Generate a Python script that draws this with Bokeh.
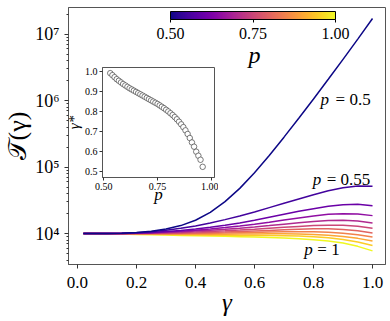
import math
from bokeh.plotting import figure
from bokeh.models import (ColorBar, LinearColorMapper, FixedTicker, NumeralTickFormatter,
                          Label, Range1d)
from bokeh.palettes import Plasma256
from bokeh.embed import file_html
from bokeh.resources import INLINE

SERIF = "Liberation Serif"

# ---------------- data ----------------
gamma = [0.02, 0.05, 0.10, 0.15, 0.20, 0.25, 0.30, 0.35, 0.40, 0.45, 0.50,
         0.55, 0.60, 0.65, 0.70, 0.75, 0.80, 0.85, 0.90, 0.95, 1.00]

# log10 of T(gamma) for each p
log10T_p050 = [4.0, 4.0, 4.002, 4.006, 4.015, 4.035, 4.07, 4.12, 4.20, 4.32, 4.48,
               4.68, 4.915, 5.175, 5.45, 5.735, 6.025, 6.32, 6.62, 6.925, 7.235]
log10T_p055 = [4.0, 4.0, 4.002, 4.006, 4.014, 4.028, 4.05, 4.08, 4.115, 4.16, 4.21,
               4.265, 4.325, 4.39, 4.455, 4.52, 4.585, 4.645, 4.69, 4.715, 4.71]
log10T_p060 = [4.0, 4.0, 4.001, 4.003, 4.008, 4.017, 4.03, 4.046, 4.068, 4.095, 4.125,
               4.16, 4.20, 4.245, 4.29, 4.335, 4.375, 4.41, 4.435, 4.44, 4.42]
log10T_p065 = [4.0, 4.0, 4.0, 4.002, 4.006, 4.012, 4.022, 4.035, 4.051, 4.07, 4.09,
               4.113, 4.14, 4.17, 4.205, 4.235, 4.265, 4.29, 4.30, 4.295, 4.27]
log10T_p070 = [4.0, 4.0, 4.0, 4.001, 4.004, 4.009, 4.016, 4.025, 4.037, 4.051, 4.066,
               4.082, 4.10, 4.12, 4.142, 4.163, 4.183, 4.197, 4.20, 4.19, 4.16]
log10T_p075 = [4.0, 4.0, 4.0, 4.0, 4.002, 4.004, 4.008, 4.014, 4.022, 4.031, 4.041,
               4.053, 4.066, 4.08, 4.094, 4.108, 4.12, 4.127, 4.124, 4.11, 4.08]
log10T_p080 = [4.0, 4.0, 4.0, 4.0, 4.0, 4.0, 4.002, 4.005, 4.009, 4.015, 4.022,
               4.03, 4.039, 4.048, 4.057, 4.065, 4.071, 4.071, 4.062, 4.042, 4.01]
log10T_p085 = [4.0, 4.0, 4.0, 3.999, 3.998, 3.997, 3.997, 3.998, 4.0, 4.003, 4.007,
               4.012, 4.017, 4.022, 4.026, 4.028, 4.027, 4.02, 4.006, 3.983, 3.95]
log10T_p090 = [4.0, 4.0, 3.999, 3.998, 3.996, 3.994, 3.992, 3.99, 3.989, 3.989, 3.99,
               3.992, 3.994, 3.996, 3.997, 3.995, 3.988, 3.976, 3.957, 3.928, 3.89]
log10T_p095 = [4.0, 4.0, 3.998, 3.996, 3.993, 3.99, 3.986, 3.982, 3.979, 3.976, 3.974,
               3.973, 3.972, 3.971, 3.969, 3.964, 3.954, 3.938, 3.912, 3.872, 3.82]
log10T_p100 = [4.0, 3.999, 3.997, 3.993, 3.988, 3.983, 3.978, 3.973, 3.968, 3.963, 3.958,
               3.953, 3.948, 3.942, 3.934, 3.923, 3.908, 3.888, 3.858, 3.808, 3.74]

p_values = [0.5, 0.55, 0.6, 0.65, 0.7, 0.75, 0.8, 0.85, 0.9, 0.95, 1.0]
series = [log10T_p050, log10T_p055, log10T_p060, log10T_p065, log10T_p070, log10T_p075,
          log10T_p080, log10T_p085, log10T_p090, log10T_p095, log10T_p100]

# inset: gamma* versus p
inset_p = [0.53, 0.54, 0.55, 0.56, 0.57, 0.58, 0.59, 0.60, 0.61, 0.62, 0.63, 0.64, 0.65, 0.66, 0.67,
           0.68, 0.69, 0.70, 0.71, 0.72, 0.73, 0.74, 0.75, 0.76, 0.77, 0.78, 0.79, 0.80, 0.81, 0.82,
           0.83, 0.84, 0.85, 0.86, 0.87, 0.88, 0.89, 0.90, 0.91, 0.92, 0.93, 0.94, 0.95, 0.96]
inset_gstar = [0.99, 0.98, 0.97, 0.96, 0.952, 0.944, 0.936, 0.929, 0.922, 0.915, 0.909, 0.903, 0.897,
               0.891, 0.885, 0.879, 0.873, 0.867, 0.861, 0.855, 0.849, 0.843, 0.837, 0.830, 0.823,
               0.816, 0.808, 0.800, 0.791, 0.782, 0.772, 0.761, 0.749, 0.736, 0.722, 0.706, 0.688,
               0.668, 0.646, 0.625, 0.60, 0.58, 0.56, 0.525]

x_ticks = [0.0, 0.2, 0.4, 0.6, 0.8, 1.0]
y_ticks = [1e4, 1e5, 1e6, 1e7]
y_tick_labels = ["10\u2074", "10\u2075", "10\u2076", "10\u2077"]
cbar_ticks = [0.5, 0.75, 1.0]
inset_x_ticks = [0.5, 0.75, 1.0]
inset_y_ticks = [0.5, 0.6, 0.7, 0.8, 0.9, 1.0]

# ---------------- main figure ----------------
p = figure(frame_width=317, frame_height=257,
           x_range=Range1d(-0.0305, 1.044), y_range=Range1d(10 ** 3.535, 10 ** 7.40),
           y_axis_type="log", output_backend="svg", toolbar_location=None,
           min_border_left=64, min_border_right=4, min_border_top=7, min_border_bottom=50,
           background_fill_color="white", border_fill_color="white")
p.grid.visible = False
p.outline_line_color = "#555555"
p.outline_line_width = 1

mapper = LinearColorMapper(palette=Plasma256, low=0.5, high=1.0)

def color_for(pv):
    return Plasma256[int(round((pv - 0.5) / 0.5 * 255))]

for pv, vals in reversed(list(zip(p_values, series))):
    p.line(gamma, [10 ** v for v in vals], line_color=color_for(pv), line_width=1.5)

for ax in (p.xaxis[0], p.yaxis[0]):
    ax.axis_line_color = "#555555"
    ax.major_tick_line_color = "#333333"
    ax.minor_tick_line_color = "#333333"
    ax.major_label_text_font = SERIF
    ax.major_label_text_color = "black"
    ax.major_tick_out = 4
    ax.major_tick_in = 0
    ax.axis_label_text_font = SERIF
    ax.axis_label_text_color = "black"
    ax.axis_label_text_font_style = "normal"

p.xaxis.major_label_text_font_size = "17px"
p.xaxis.major_label_standoff = 8
p.yaxis.major_label_text_font_size = "18px"
p.yaxis.major_label_standoff = 5

p.xaxis.ticker = FixedTicker(ticks=x_ticks, minor_ticks=[])
p.xaxis.formatter = NumeralTickFormatter(format="0.0")
p.xaxis.axis_label = "\u03b3"
p.xaxis.axis_label_text_font_style = "italic"
p.xaxis.axis_label_text_font_size = "25px"
p.xaxis.axis_label_standoff = -2

minor = [k * 10 ** e for e in range(3, 8) for k in range(2, 10)]
p.yaxis.ticker = FixedTicker(ticks=y_ticks, minor_ticks=minor)
p.yaxis.major_label_overrides = {t: lab for t, lab in zip(y_ticks, y_tick_labels)}
p.yaxis.minor_tick_out = 2
p.yaxis.minor_tick_in = 0
p.yaxis.axis_label = "\U0001D4AF(\u03b3)"
p.yaxis.axis_label_text_font_size = "26px"
p.yaxis.axis_label_standoff = 0

# curve annotations
def annotate(x, y, rest, off):
    p.add_layout(Label(x=x, y=y, text="p", text_align="left", text_baseline="middle",
                       text_font=SERIF, text_font_style="italic", text_font_size="17px",
                       text_color="black"))
    p.add_layout(Label(x=x, y=y, x_offset=off, text=rest, text_align="left",
                       text_baseline="middle", text_font=SERIF, text_font_size="17px",
                       text_color="black"))

annotate(0.824, 1.04e6, "= 0.5", 15)
annotate(0.797, 6.6e4, "= 0.55", 14)
annotate(0.769, 5.75e3, "= 1", 13)

# colour bar
cbar = ColorBar(color_mapper=mapper, orientation="horizontal", width=165, height=8,
                location=(102, 223), ticker=FixedTicker(ticks=cbar_ticks),
                formatter=NumeralTickFormatter(format="0.00"),
                major_label_text_font=SERIF, major_label_text_font_size="16px",
                major_label_text_color="black",
                major_tick_line_color="black", major_tick_out=3, major_tick_in=0,
                bar_line_color="black", bar_line_width=1, label_standoff=5, padding=0,
                background_fill_alpha=0, border_line_color=None)
p.add_layout(cbar, "center")
p.add_layout(Label(x=186, y=210, x_units="screen", y_units="screen", text="p",
                   text_align="center", text_baseline="middle", text_font=SERIF,
                   text_font_style="italic", text_font_size="24px", text_color="black"))

# ---------------- inset ----------------
inset = figure(frame_width=112, frame_height=110,
               x_range=Range1d(0.494, 1.015), y_range=Range1d(0.472, 1.018),
               output_backend="svg", toolbar_location=None,
               min_border_left=40, min_border_right=4, min_border_top=4, min_border_bottom=34,
               background_fill_color="white", border_fill_color=None)
inset.grid.visible = False
inset.outline_line_color = "#555555"
inset.scatter(inset_p, inset_gstar, marker="circle", size=5.5, fill_color="white",
              line_color="#444444", line_width=0.7)
for ax in (inset.xaxis[0], inset.yaxis[0]):
    ax.axis_line_color = "#555555"
    ax.major_tick_line_color = "#333333"
    ax.major_label_text_font = SERIF
    ax.major_label_text_font_size = "10px"
    ax.major_label_text_color = "black"
    ax.major_tick_out = 3
    ax.major_tick_in = 0
    ax.major_label_standoff = 2
    ax.axis_label_text_font = SERIF
    ax.axis_label_text_color = "black"
    ax.axis_label_text_font_style = "italic"
inset.xaxis.ticker = FixedTicker(ticks=inset_x_ticks, minor_ticks=[])
inset.xaxis.formatter = NumeralTickFormatter(format="0.00")
inset.xaxis.axis_label = "p"
inset.xaxis.axis_label_text_font_size = "17px"
inset.xaxis.axis_label_standoff = -8
inset.yaxis.ticker = FixedTicker(ticks=inset_y_ticks, minor_ticks=[])
inset.yaxis.formatter = NumeralTickFormatter(format="0.0")
inset.yaxis.axis_label = "\u03b3*"
inset.yaxis.axis_label_text_font_size = "15px"
inset.yaxis.axis_label_standoff = 0
inset.styles = {"position": "absolute", "left": "62px", "top": "63px", "z-index": "10"}

open("out.html", "w").write(file_html([p, inset], INLINE))
